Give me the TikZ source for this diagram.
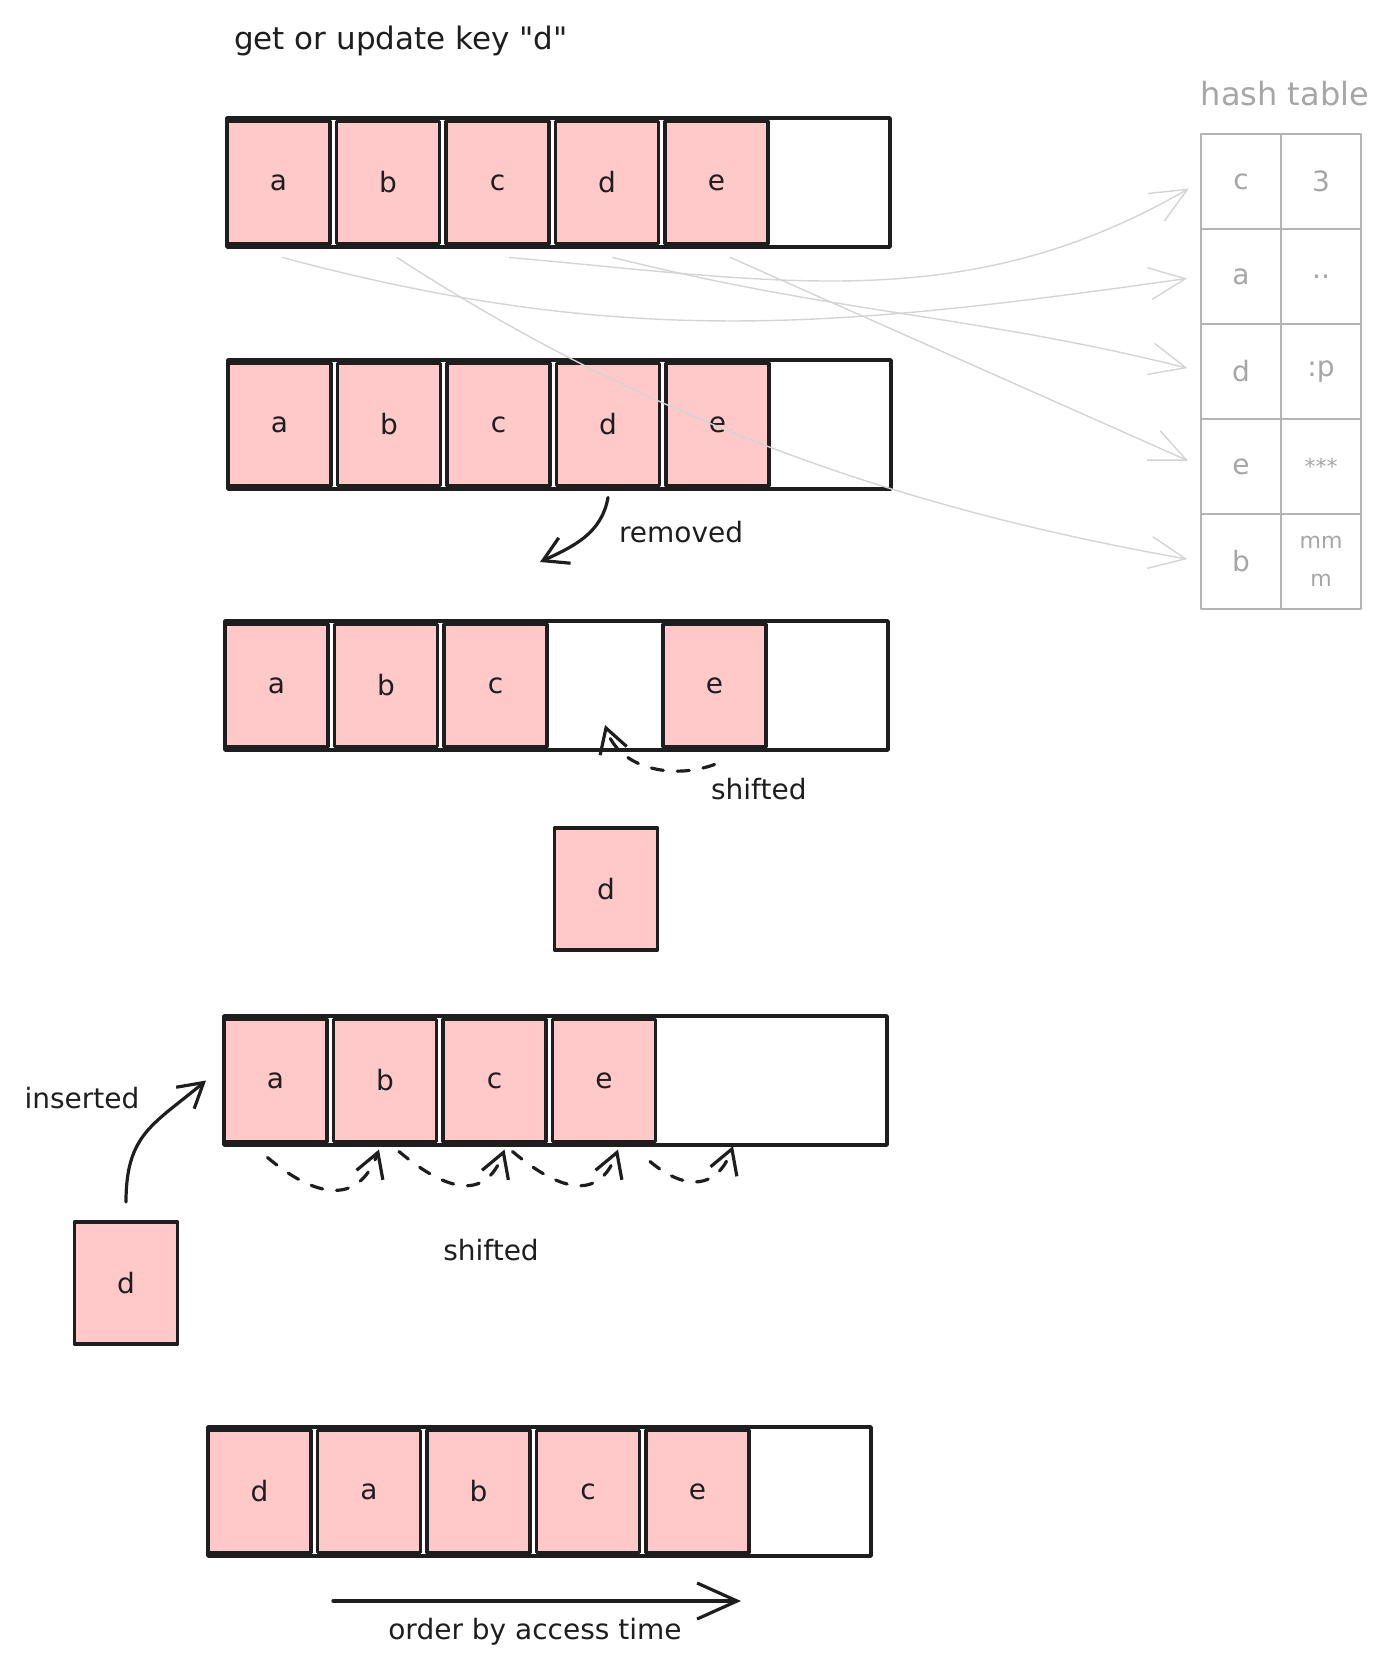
\documentclass[tikz,border=0pt]{standalone}
\usepackage{fontspec}
\setmainfont{DejaVu Sans}
\newfontfamily\straightquote{DejaVu Sans}
\usepackage{xcolor}
\definecolor{ink}{HTML}{1E1E1E}
\definecolor{pinkfill}{HTML}{FFC9C9}
\definecolor{hashline}{HTML}{B4B4B4}
\definecolor{hashtext}{HTML}{A6A6A6}
\definecolor{linkgray}{HTML}{D4D4D4}
\usepackage{tikz}
\usetikzlibrary{positioning,arrows.meta}

\begin{document}
\begin{tikzpicture}[x=0.5pt, y=-0.5pt, line join=round, line cap=round, font=\fontsize{14}{17}\selectfont, text=ink,
  arr/.style = {draw=ink, line width=1.8pt, minimum width=331.5pt, minimum height=64.5pt, inner sep=0pt, outer sep=0pt, anchor=north west},
  cell/.style = {draw=ink, fill=pinkfill, line width=1.6pt, minimum width=51.5pt, minimum height=61pt, inner sep=0pt, outer sep=0pt},
  hcell/.style = {draw=hashline, text=hashtext, line width=0.7pt, minimum width=40pt, minimum height=47.5pt, inner sep=0pt, outer sep=0pt, align=center},
  link/.style = {-{Straight Barb[length=18pt,width=16pt]}, draw=linkgray, line width=0.7pt, shorten >=7pt},
  pusharrow/.style = {-{Straight Barb[length=12pt,width=14pt]}, draw=ink, line width=1.6pt},
  shiftarrow/.style = {pusharrow, dash pattern=on 6pt off 7pt}]

\useasboundingbox (0,0) rectangle (1390,1671);

\node[anchor=west, font=\fontsize{15.5}{19}\selectfont] (title) at (227,41) {get or update key {\straightquote"d"}};

\begin{scope}[shift={(227,118)}]
\node[arr] (row1) at (0,0) {};
\node[cell, right=0pt of row1.west] (a1) {a};
\node[cell, right=3.25pt of a1] (b1) {b};
\node[cell, right=3.25pt of b1] (c1) {c};
\node[cell, right=3.25pt of c1] (d1) {d};
\node[cell, right=3.25pt of d1] (e1) {e};
\end{scope}

\begin{scope}[shift={(228,360)}]
\node[arr] (row2) at (0,0) {};
\node[cell, right=0pt of row2.west] (a2) {a};
\node[cell, right=3.25pt of a2] (b2) {b};
\node[cell, right=3.25pt of b2] (c2) {c};
\node[cell, right=3.25pt of c2] (d2) {d};
\node[cell, right=3.25pt of d2] (e2) {e};
\end{scope}

\begin{scope}[shift={(225,621)}]
\node[arr] (row3) at (0,0) {};
\node[cell, right=0pt of row3.west] (a3) {a};
\node[cell, right=3.25pt of a3] (b3) {b};
\node[cell, right=3.25pt of b3] (c3) {c};
\node[cell, right=58pt of c3] (e3) {e};
\end{scope}

\node[cell] (dtaken) at (606,889) {d};

\begin{scope}[shift={(224,1016)}]
\node[arr] (row4) at (0,0) {};
\node[cell, right=0pt of row4.west] (a4) {a};
\node[cell, right=3.25pt of a4] (b4) {b};
\node[cell, right=3.25pt of b4] (c4) {c};
\node[cell, right=3.25pt of c4] (e4) {e};
\end{scope}

\node[cell] (dnew) at (126,1283) {d};

\begin{scope}[shift={(208,1427)}]
\node[arr] (row5) at (0,0) {};
\node[cell, right=0pt of row5.west] (d5) {d};
\node[cell, right=3.25pt of d5] (a5) {a};
\node[cell, right=3.25pt of a5] (b5) {b};
\node[cell, right=3.25pt of b5] (c5) {c};
\node[cell, right=3.25pt of c5] (e5) {e};
\end{scope}

\node[text=hashtext, font=\fontsize{16}{19}\selectfont] (hashtitle) at (1285,94) {hash table};
\node[hcell] (hk1) at (1241,181.5) {c};
\node[hcell, right=0pt of hk1] (hv1) {3};
\node[hcell, below=0pt of hk1] (hk2) {a};
\node[hcell, right=0pt of hk2] (hv2) {..};
\node[hcell, below=0pt of hk2] (hk3) {d};
\node[hcell, right=0pt of hk3] (hv3) {:p};
\node[hcell, below=0pt of hk3] (hk4) {e};
\node[hcell, right=0pt of hk4, font=\fontsize{11}{14}\selectfont] (hv4) {***};
\node[hcell, below=0pt of hk4] (hk5) {b};
\node[hcell, right=0pt of hk5, font=\fontsize{11}{19}\selectfont] (hv5) {mm\\m};

\draw[link] ([xshift=2pt,yshift=-7pt]a1.south) to[out=-15, in=188] (hk2.west);
\draw[link] ([xshift=4.5pt,yshift=-7pt]b1.south) to[out=-33, in=170, looseness=0.9] (hk5.west);
\draw[link] ([xshift=6pt,yshift=-7pt]c1.south) to[out=-5, in=210] (hk1.west);
\draw[link] ([xshift=3pt,yshift=-7pt]d1.south) to[out=-14, in=166] (hk3.west);
\draw[link] ([xshift=7pt,yshift=-7pt]e1.south) -- (hk4.west);

\coordinate (gone) at (540,562);
\draw[pusharrow] ([yshift=-6pt]d2.south) to[out=-100, in=25] (gone);
\node[anchor=west] (removedlabel) at (612,532) {removed};

\coordinate (slot3) at (605,725);
\draw[shiftarrow] ([yshift=-9pt]e3.south) to[out=200, in=-72] (slot3);
\node[anchor=west] (shiftlabel3) at (704,789) {shifted};

\coordinate (slot4) at (733,1146);
\draw[shiftarrow] ([xshift=-4pt,yshift=-8pt]a4.south) to[out=-40, in=-110, looseness=1.4] ([xshift=-3pt,yshift=-4pt]b4.south);
\draw[shiftarrow] ([xshift=7pt,yshift=-5pt]b4.south) to[out=-40, in=-110, looseness=1.4] ([xshift=5pt,yshift=-4pt]c4.south);
\draw[shiftarrow] ([xshift=9pt,yshift=-5pt]c4.south) to[out=-40, in=-110, looseness=1.4] ([xshift=7pt,yshift=-4pt]e4.south);
\draw[shiftarrow] ([xshift=23pt,yshift=-10pt]e4.south) to[out=-40, in=-110, looseness=1.4] (slot4);
\node (shiftlabel4) at (491,1250) {shifted};

\draw[pusharrow] ([yshift=10pt]dnew.north) to[out=90, in=220, looseness=1.2] ([xshift=-9pt]a4.west);
\node (insertlabel) at (82,1098) {inserted};

\coordinate (timestart) at (333,1601);
\coordinate (timeend) at (741,1601);
\draw[pusharrow, -{Straight Barb[length=20pt,width=18pt]}] (timestart) -- (timeend);
\node (orderlabel) at (535,1632) {order by access time};
\end{tikzpicture}
\end{document}
